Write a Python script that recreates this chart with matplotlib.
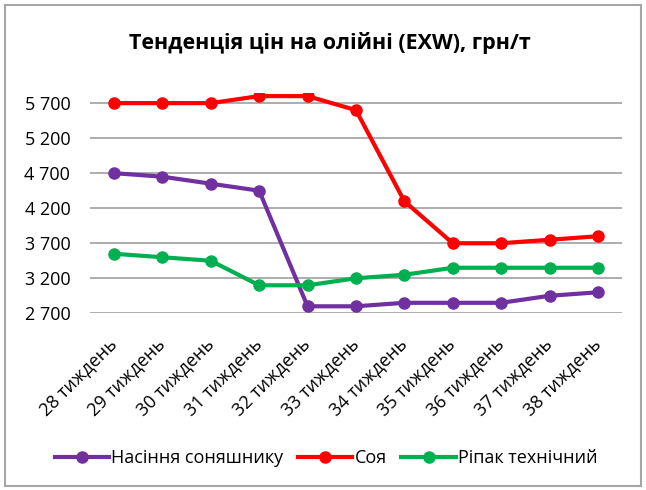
import matplotlib.pyplot as plt
import matplotlib.patches as mpatches
from matplotlib.transforms import ScaledTranslation

plt.rcParams['font.family'] = ['Open Sans', 'DejaVu Sans']

weeks = ['28 тиждень', '29 тиждень', '30 тиждень', '31 тиждень', '32 тиждень',
         '33 тиждень', '34 тиждень', '35 тиждень', '36 тиждень', '37 тиждень',
         '38 тиждень']
sunflower = [4700, 4650, 4550, 4450, 2800, 2800, 2850, 2850, 2850, 2950, 3000]
soy = [5700, 5700, 5700, 5800, 5800, 5600, 4300, 3700, 3700, 3750, 3800]
rapeseed = [3550, 3500, 3450, 3100, 3100, 3200, 3250, 3350, 3350, 3350, 3350]
yticks = [2700, 3200, 3700, 4200, 4700, 5200, 5700]

fig = plt.figure(figsize=(6.46, 4.90), dpi=100)
ax = fig.add_axes([0.139, 0.3606, 0.824, 0.4504])

x = range(len(weeks))
ax.plot(x, sunflower, color='#7030A0', lw=3, marker='o', ms=8, label='Насіння соняшнику')
ax.plot(x, soy, color='#FF0000', lw=3, marker='o', ms=8, label='Соя')
ax.plot(x, rapeseed, color='#00B050', lw=3, marker='o', ms=8, label='Ріпак технічний')

ax.set_xlim(-0.5, len(weeks) - 0.5)
ax.set_ylim(2700, 5850)
ax.set_yticks(yticks)
ax.set_yticklabels([f'{v:,}'.replace(',', ' ') for v in yticks], fontsize=13)
ax.set_xticks(list(x))
ax.set_xticklabels(weeks, rotation=45, ha='right', va='center', rotation_mode='anchor', fontsize=13)
ax.tick_params(length=0)
ax.tick_params(axis='y', pad=14)
ax.tick_params(axis='x', pad=0)
# move rotated labels so their ends sit just under each category
shift = ScaledTranslation(0.0, -0.28, fig.dpi_scale_trans)
for lbl in ax.get_xticklabels():
    lbl.set_transform(lbl.get_transform() + shift)
ax.grid(axis='y', color='#A0A0A0', lw=1.2)
ax.set_axisbelow(True)
for s in ax.spines.values():
    s.set_visible(False)

fig.text(0.51, 0.912, 'Тенденція цін на олійні (EXW), грн/т', ha='center', va='center',
         fontsize=15.5, fontweight='bold')

fig.legend(loc='center', bbox_to_anchor=(0.505, 0.065), ncol=3, frameon=False,
           fontsize=13, handlelength=3.0, handletextpad=0.15, columnspacing=0.8)

fig.patches.append(mpatches.Rectangle((0.007, 0.008), 0.986, 0.982, transform=fig.transFigure,
                                      fill=False, edgecolor='#A6A6A6', lw=1.5))

fig.savefig('out.png')
